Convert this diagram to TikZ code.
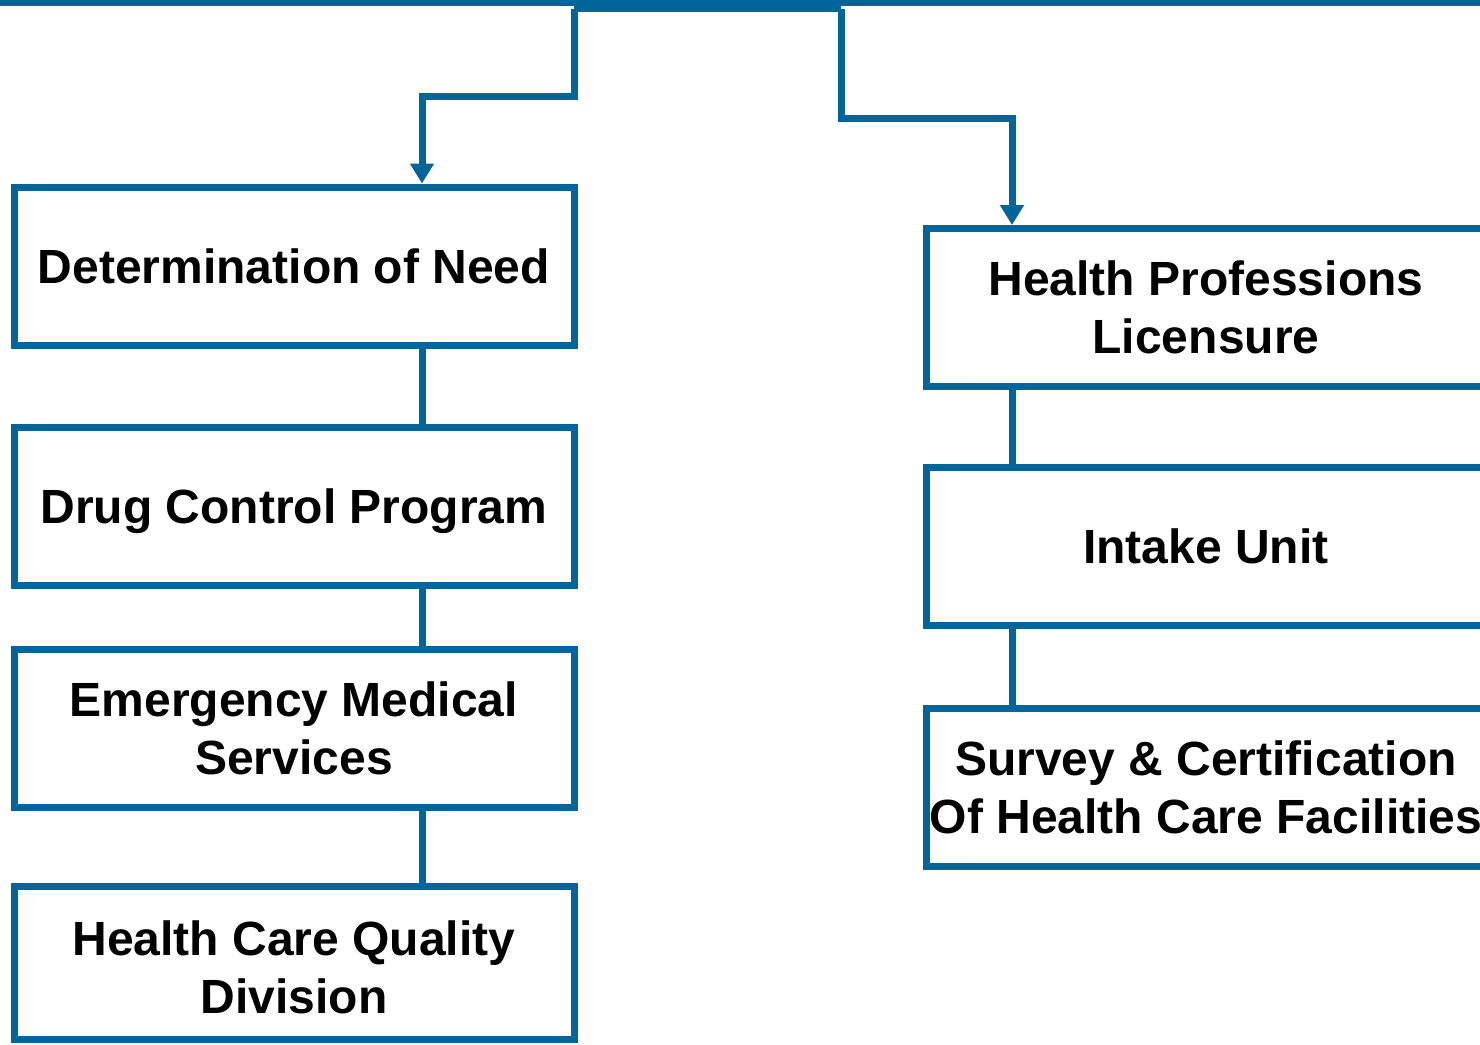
\documentclass[tikz,border=0pt]{standalone}
\usepackage{fontspec}
\setmainfont{Liberation Sans}
\usetikzlibrary{arrows.meta}
\definecolor{unitblue}{RGB}{0,102,153}
\tikzset{
  unit/.style={draw=unitblue, line width=3.5pt, minimum width=280pt, minimum height=79pt,
    align=center, inner sep=0pt, font=\bfseries\fontsize{24}{29}\selectfont},
  link/.style={draw=unitblue, line width=3.5pt},
  linkarr/.style={link, -{Triangle[length=10pt,width=11.5pt]}}
}
\begin{document}
\begin{tikzpicture}[x=0.5pt, y=-0.5pt]

		\useasboundingbox (0,0) rectangle (1480,1045);

		\def \lx {294};
		\def \rx {1206};

		\node[unit] (don) at (\lx,266) {Determination of Need};
		\node[unit, text depth=0pt] (dcp) at (\lx,506) {Drug Control Program};
		\node[unit] (ems) at (\lx,728) {Emergency Medical\\Services};
		\node[unit, minimum height=76.5pt] (hcq) at (\lx,962.5) {\rule{0pt}{22.5pt}Health Care Quality\\Division};

		\node[unit] (hpl) at (\rx,307.5) {Health Professions\\Licensure};
		\node[unit] (itk) at (\rx,546) {Intake Unit};
		\node[unit] (svc) at (\rx,787.5) {Survey \& Certification\\Of Health Care Facilities};

		\draw[link, line width=3pt] (0,3) -- (1480,3);
		\coordinate (busl) at (574,9);
		\coordinate (busr) at (841,9);
		\draw[link, line width=3pt] (busl) -- (busr);

		\draw[linkarr] (busl) -- ++(0,87.5) -| ([xshift=64pt]don.north);
		\draw[linkarr] (busr) -- ++(0,109) -| ([xshift=-97pt]hpl.north);

		\foreach \a/\b in {don/dcp, dcp/ems, ems/hcq} {
		    \draw[link] ([xshift=64pt]\a.south) -- ([xshift=64pt]\b.north);
		}
		\foreach \a/\b in {hpl/itk, itk/svc} {
		    \draw[link] ([xshift=-97pt,yshift=3pt]\a.south) -- ([xshift=-97pt]\b.north);
		}
	\end{tikzpicture}
\end{document}
